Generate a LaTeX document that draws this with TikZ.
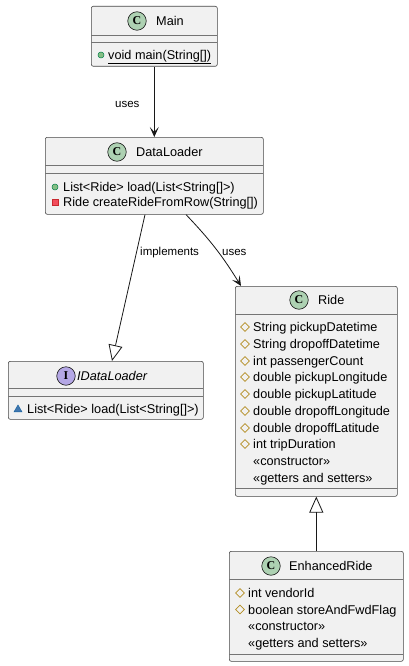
\documentclass[tikz,border=0pt]{standalone}
\usepackage{fontspec}
\setmainfont[Ligatures=NoCommon]{Liberation Sans}
\newfontfamily\iconfont{Liberation Serif}
\usetikzlibrary{arrows.meta,shapes.geometric,calc}
\definecolor{boxfill}{HTML}{F1F1F1}
\definecolor{boxline}{HTML}{181818}
\definecolor{cfill}{HTML}{ADD1B2}
\definecolor{ifill}{HTML}{B4A7E5}
\definecolor{pubfill}{HTML}{84BE84}
\definecolor{publine}{HTML}{038048}
\definecolor{privfill}{HTML}{F24D5C}
\definecolor{privline}{HTML}{C82930}
\definecolor{protline}{HTML}{B38D22}
\definecolor{pkgfill}{HTML}{4177AF}
\definecolor{pkgline}{HTML}{1963A0}
\tikzset{
  classbox/.style={draw=boxline!80, fill=boxfill, line width=0.6pt, rounded corners=2pt, anchor=north west, inner sep=0},
  sepline/.style={draw=boxline!60, line width=0.6pt},
  cicon/.style={circle, draw=boxline, fill=cfill, line width=0.6pt, minimum size=18.5pt, inner sep=0, font=\iconfont\bfseries\fontsize{12}{12}\selectfont},
  iicon/.style={circle, draw=boxline, fill=ifill, line width=0.6pt, minimum size=18.5pt, inner sep=0, font=\iconfont\bfseries\fontsize{12}{12}\selectfont},
  cname/.style={anchor=base west, inner sep=0, font=\fontsize{12.7}{15}\selectfont},
  mem/.style={anchor=base west, inner sep=0, font=\fontsize{12.7}{15}\selectfont},
  pub/.style={circle, draw=publine, fill=pubfill, minimum size=6pt, inner sep=0, line width=0.5pt},
  priv/.style={rectangle, draw=privline, fill=privfill, minimum size=6.5pt, inner sep=0, line width=0.5pt},
  prot/.style={diamond, draw=protline, minimum size=9pt, inner sep=0, line width=0.8pt},
  pkg/.style={regular polygon, regular polygon sides=3, draw=pkgline, fill=pkgfill, minimum size=9pt, inner sep=0, line width=0.5pt},
  conn/.style={draw=boxline, line width=0.8pt},
  dep/.style={conn, -{Stealth[length=10pt,width=9pt,inset=5pt]}},
  inh/.style={conn, -{Triangle[open,length=16pt,width=14pt,line width=0.8pt]}},
  lbl/.style={anchor=base west, inner sep=0, font=\fontsize{11.5}{13}\selectfont},
}
\begin{document}
\begin{tikzpicture}[x=1pt,y=-1pt]
\useasboundingbox[fill=white] (0,0) rectangle (408,666);

% ---------- Main ----------
\node[classbox, minimum width=126pt, minimum height=60pt] (main) at (91,6) {};
\draw[sepline] (91,35) -- (217,35);
\draw[sepline] (91,42) -- (217,42);
\node[cicon] (mainC) at (137,21) {C};
\node[cname] (mainN) at (156,25.5) {Main};
\node[pub] (mainI1) at (101,55) {};
\node[mem] (mainM1) at (108,59.5) {\underline{void main(String[])}};

% ---------- DataLoader ----------
\node[classbox, minimum width=218pt, minimum height=77pt] (dl) at (45,137) {};
\draw[sepline] (45,165) -- (263,165);
\draw[sepline] (45,173) -- (263,173);
\node[cicon] (dlC) at (117,152) {C};
\node[cname] (dlN) at (136,157) {DataLoader};
\node[pub] (dlI1) at (55,187) {};
\node[mem] (dlM1) at (63,191.5) {List<Ride> load(List<String[]>)};
\node[priv] (dlI2) at (55,202) {};
\node[mem] (dlM2) at (63,206.5) {Ride createRideFromRow(String[])};

% ---------- IDataLoader ----------
\node[classbox, minimum width=195pt, minimum height=58pt] (idl) at (8,361) {};
\draw[sepline] (8,388) -- (203,388);
\draw[sepline] (8,396) -- (203,396);
\node[iicon] (idlC) at (66,376) {I};
\node[cname] (idlN) at (77,380.5) {\itshape IDataLoader};
\node[pkg] (idlI1) at (18,409.5) {};
\node[mem] (idlM1) at (27,413.5) {List<Ride> load(List<String[]>)};

% ---------- Ride ----------
\node[classbox, minimum width=162pt, minimum height=210pt] (ride) at (235,286) {};
\draw[sepline] (235,314) -- (397,314);
\draw[sepline] (235,488) -- (397,488);
\node[cicon] (rideC) at (299,300) {C};
\node[cname] (rideN) at (318,304.5) {Ride};
\node[prot] (rideI1) at (245,327) {};
\node[mem] (rideM1) at (253,331.5) {String pickupDatetime};
\node[prot] (rideI2) at (245,344) {};
\node[mem] (rideM2) at (253,348.5) {String dropoffDatetime};
\node[prot] (rideI3) at (245,361) {};
\node[mem] (rideM3) at (253,365.5) {int passengerCount};
\node[prot] (rideI4) at (245,377) {};
\node[mem] (rideM4) at (253,381.5) {double pickupLongitude};
\node[prot] (rideI5) at (245,394) {};
\node[mem] (rideM5) at (253,398.5) {double pickupLatitude};
\node[prot] (rideI6) at (245,411) {};
\node[mem] (rideM6) at (253,415.5) {double dropoffLongitude};
\node[prot] (rideI7) at (245,428) {};
\node[mem] (rideM7) at (253,432.5) {double dropoffLatitude};
\node[prot] (rideI8) at (245,444) {};
\node[mem] (rideM8) at (253,448.5) {int tripDuration};
\node[mem] (rideM9) at (253,465.5) {«constructor»};
\node[mem] (rideM10) at (253,482.5) {«getters and setters»};

% ---------- EnhancedRide ----------
\node[classbox, minimum width=174pt, minimum height=110pt] (er) at (229,551) {};
\draw[sepline] (229,579) -- (403,579);
\draw[sepline] (229,654) -- (403,654);
\node[cicon] (erC) at (271,566) {C};
\node[cname] (erN) at (289,570.5) {EnhancedRide};
\node[prot] (erI1) at (240,593) {};
\node[mem] (erM1) at (248,597.5) {int vendorId};
\node[prot] (erI2) at (240,609.5) {};
\node[mem] (erM2) at (248,614) {boolean storeAndFwdFlag};
\node[mem] (erM3) at (248,630.5) {«constructor»};
\node[mem] (erM4) at (248,647.5) {«getters and setters»};

% ---------- connectors ----------
\draw[dep] (main.south) -- (dl.north);
\node[lbl] (l1) at (115,107) {uses};
\draw[inh] ($(dl.south west)+(100,0)$) -- ($(idl.north west)+(104,0)$);
\node[lbl] (l2) at (140,255) {implements};
\draw[dep] ($(dl.south west)+(141,0)$) to[bend left=6] ($(ride.north west)+(6,0)$);
\node[lbl] (l3) at (222,255) {uses};
\draw[inh] (er.north) -- (ride.south);
\end{tikzpicture}
\end{document}
